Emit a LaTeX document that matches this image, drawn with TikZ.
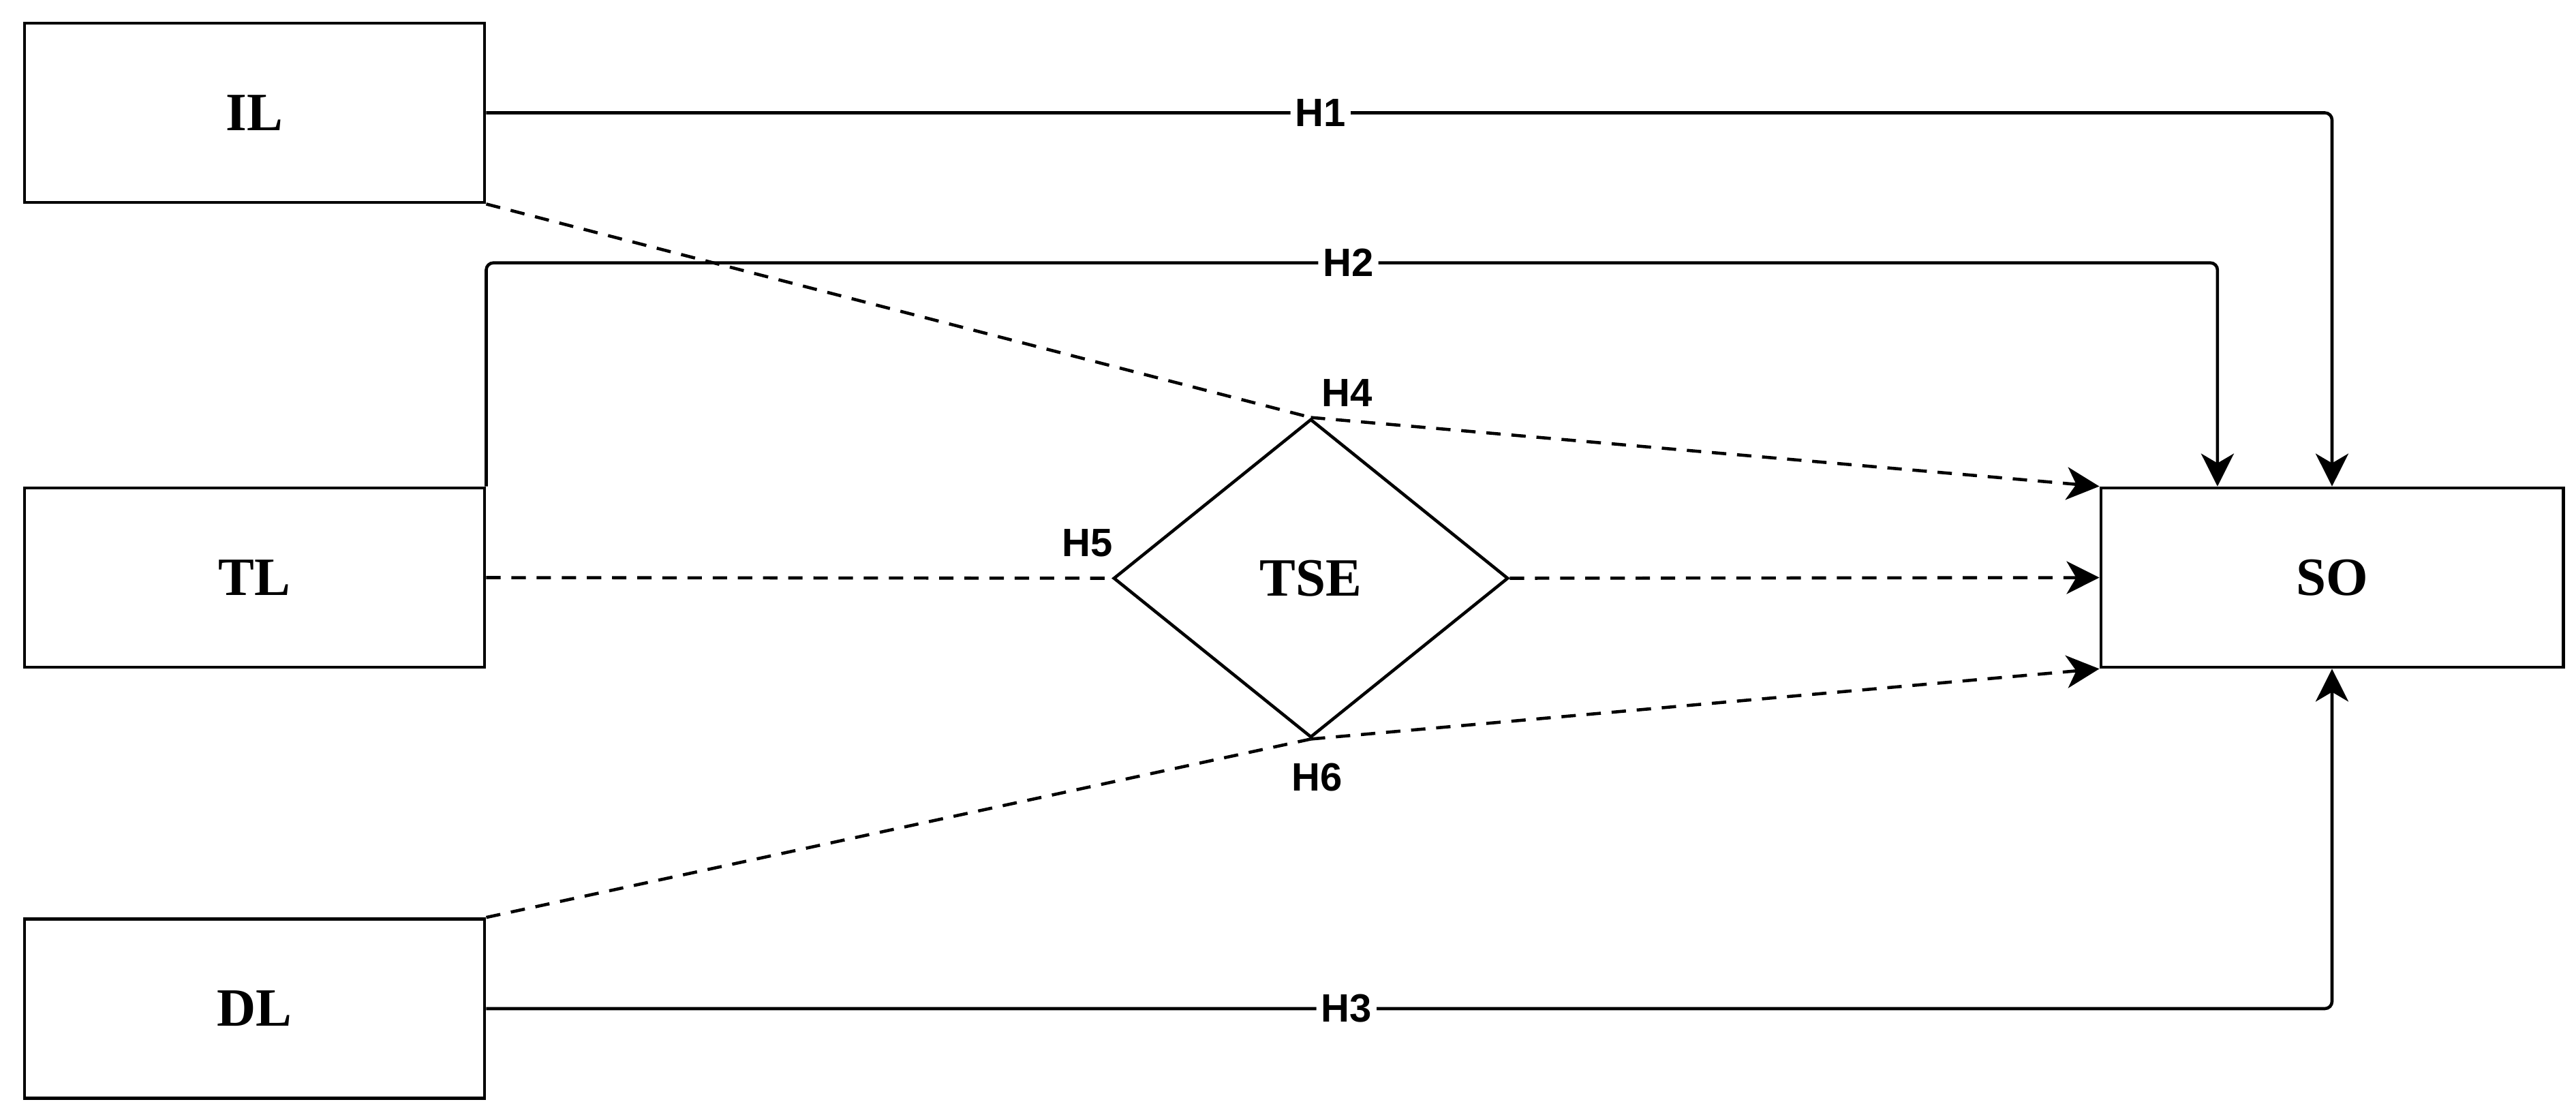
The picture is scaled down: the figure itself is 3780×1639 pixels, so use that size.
\documentclass[tikz,border=0pt]{standalone}
\usepackage{fontspec}
\setmainfont{Liberation Serif}
\setsansfont{Liberation Sans}
\usetikzlibrary{shapes.geometric,arrows.meta,calc}
\begin{document}
\begin{tikzpicture}[x=0.01cm, y=-0.01cm,
  box/.style={draw, line width=1.3pt, minimum width=6.75cm, minimum height=2.63cm, inner sep=0pt,
    font=\fontsize{22.5}{26}\selectfont\bfseries},
  hyp/.style={font=\sffamily\bfseries\fontsize{16.5}{20}\selectfont, inner sep=2pt},
  conn/.style={line width=1.3pt, rounded corners=3pt},
  dconn/.style={line width=1.3pt, dash pattern=on 6pt off 4.5pt},
  tip/.style={-{Stealth[length=0.48cm,width=0.48cm,inset=0.14cm]}}
]
\useasboundingbox (0,0) rectangle (3780,1639);
\node[box] (IL) at (373.5,165.5) {IL};
\node[box] (TL) at (373.5,847.5) {TL};
\node[box] (DL) at (373.5,1480) {DL};
\node[box, minimum width=6.78cm] (SO) at (3422,847.5) {SO};
\node[diamond, draw, line width=1.3pt, minimum width=5.79cm, minimum height=4.67cm, inner sep=0pt,
  font=\fontsize{22.5}{26}\selectfont\bfseries] (TSE) at (1923.5,848.5) {TSE};

% solid hypotheses
\draw[conn, tip] (IL.east) -| node[hyp, fill=white, pos=0.226] {H1} (SO.north);
\draw[conn, tip] (TL.north east) -- ++(0,-328) -| node[hyp, fill=white, pos=0.249] {H2} ([xshift=-1.68cm]SO.north);
\draw[conn, tip] (DL.east) -| node[hyp, fill=white, pos=0.233] {H3} (SO.south);

% dashed mediation paths
\draw[dconn] (IL.south east) -- (TSE.north);
\draw[dconn, tip] (TSE.north) -- (SO.north west);
\draw[dconn] (TL.east) -- (TSE.west);
\draw[dconn, tip] (TSE.east) -- (SO.west);
\draw[dconn] (DL.north east) -- (TSE.south);
\draw[dconn, tip] (TSE.south) -- (SO.south west);

\node[hyp] (H4) at ([xshift=0.53cm, yshift=0.36cm]TSE.north) {H4};
\node[hyp] (H5) at ([xshift=-0.36cm, yshift=0.52cm]TSE.west) {H5};
\node[hyp] (H6) at ([xshift=0.09cm, yshift=-0.56cm]TSE.south) {H6};
\end{tikzpicture}
\end{document}
